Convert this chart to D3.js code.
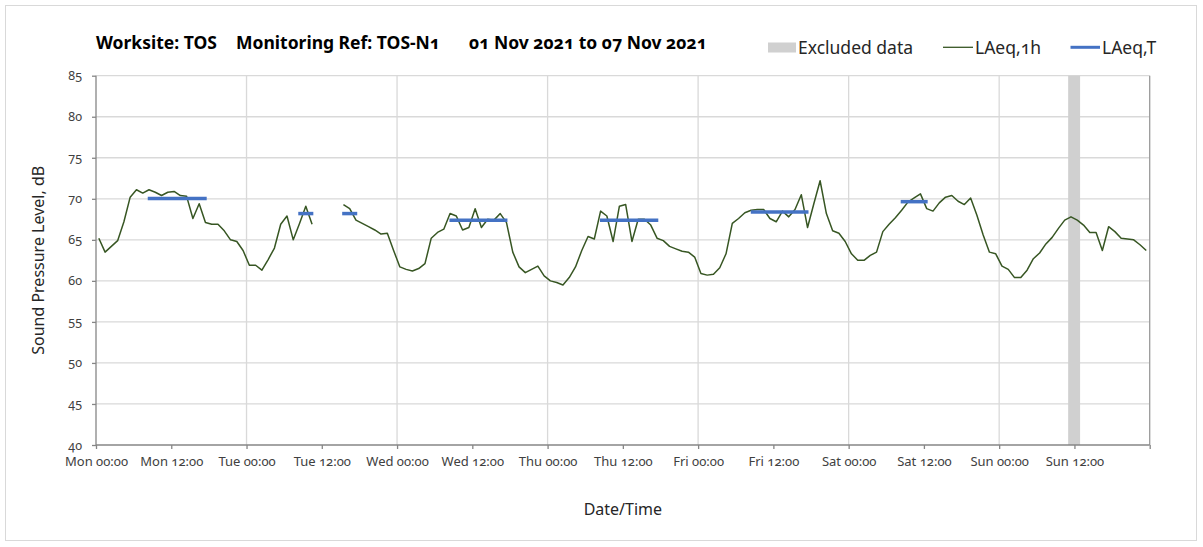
<!DOCTYPE html>
<meta charset="utf-8">
<style>
    body { margin: 0; background: #fff; }
    text {
        font-family: "Noto Sans", "Open Sans", sans-serif;
        font-feature-settings: "onum";
        fill: #404040;
    }
    .title { font-weight: bold; fill: #000; font-size: 17.5px; }
    .legend text { fill: #262626; font-size: 17.5px; }
    .tick text { font-size: 13px; fill: #404040; }
    .yaxis .tick text { font-size: 12.5px; }
    .axis-title { font-size: 16px; fill: #262626; }
    .grid line { stroke: #d9d9d9; stroke-width: 1.3px; }
    .axis path, .axis line { stroke: #868686; stroke-width: 1.3px; }
</style>
<body>
    <svg width="1203" height="547"></svg>
</body>
<script src="https://d3js.org/d3.v7.min.js"></script>
<script>

    // hourly LAeq,1h values, Mon 00:00 to Sun 23:00 (null = no data)
    var laeq1h = [
        65.2, 63.5, 64.2, 64.9, 67.2, 70.2, 71.1, 70.7, 71.1, 70.8, 70.4, 70.8,
        70.9, 70.4, 70.3, 67.6, 69.4, 67.1, 66.9, 66.9, 66.1, 65.0, 64.8, 63.7,
        61.9, 61.9, 61.3, 62.6, 64.0, 66.9, 67.9, 65.0, 67.0, 69.1, 66.9, null,
        null, null, null, 69.3, 68.8, 67.4, 67.0, 66.6, 66.2, 65.7, 65.8, 63.7,
        61.7, 61.4, 61.2, 61.5, 62.1, 65.2, 65.9, 66.3, 68.2, 67.9, 66.2, 66.5,
        68.8, 66.5, 67.5, 67.4, 68.2, 67.1, 63.5, 61.7, 61.0, 61.4, 61.8, 60.6,
        60.0, 59.8, 59.5, 60.4, 61.7, 63.7, 65.4, 65.1, 68.5, 67.9, 64.8, 69.1,
        69.3, 64.8, 67.5, 67.5, 66.8, 65.2, 64.9, 64.2, 63.9, 63.6, 63.5, 62.9,
        60.9, 60.7, 60.8, 61.6, 63.3, 67.0, 67.6, 68.3, 68.6, 68.7, 68.7, 67.6,
        67.2, 68.5, 67.8, 68.7, 70.5, 66.5, 69.4, 72.2, 68.2, 66.1, 65.8, 64.8,
        63.3, 62.5, 62.5, 63.1, 63.5, 66.0, 66.9, 67.7, 68.6, 69.6, 70.1, 70.6,
        68.8, 68.5, 69.5, 70.2, 70.4, 69.7, 69.3, 70.1, 68.0, 65.6, 63.5, 63.3,
        61.8, 61.4, 60.4, 60.4, 61.3, 62.7, 63.4, 64.5, 65.3, 66.4, 67.4, 67.8,
        67.4, 66.8, 65.9, 65.9, 63.7, 66.6, 66.0, 65.2, 65.1, 65.0, 64.4, 63.7
    ];

    // LAeq,T periods: start hour, end hour, level
    var laeqTStart = [8.25, 32.25, 39.25, 56.35, 80.35, 104.4, 128.3];
    var laeqTEnd   = [17.65, 34.65, 41.65, 65.6, 89.65, 113.6, 132.6];
    var laeqTValue = [70.05, 68.2, 68.2, 67.4, 67.4, 68.4, 69.65];

    // excluded data periods (hours from Mon 00:00)
    var excludedStart = [155.0];
    var excludedEnd = [156.9];

    var dayNames = ["Mon", "Tue", "Wed", "Thu", "Fri", "Sat", "Sun", "Mon"];
    var yTicks = [40, 45, 50, 55, 60, 65, 70, 75, 80, 85];

    var svg = d3.select("svg");
    var pLeft = 96, pRight = 1149.7, pTop = 75.7, pBottom = 445;

    // outer chart border
    svg.append("rect")
        .attr("x", 5.5).attr("y", 5.5)
        .attr("width", 1191).attr("height", 535)
        .attr("fill", "none")
        .attr("stroke", "#d9d9d9");

    var x = d3.scaleLinear().domain([0, 168]).range([pLeft, pRight]);
    var y = d3.scaleLinear().domain([40, 85]).range([pBottom, pTop]);

    // grid - horizontal every 5 dB, vertical every day
    var grid = svg.append("g").attr("class", "grid");
    grid.selectAll(".h").data(yTicks.slice(1)).enter().append("line")
        .attr("x1", pLeft).attr("x2", pRight)
        .attr("y1", function (d) { return y(d); })
        .attr("y2", function (d) { return y(d); });
    grid.selectAll(".v").data(d3.range(24, 168, 24)).enter().append("line")
        .attr("y1", pTop).attr("y2", pBottom)
        .attr("x1", function (d) { return x(d); })
        .attr("x2", function (d) { return x(d); });

    // excluded band
    svg.selectAll(".excl").data(excludedStart).enter().append("rect")
        .attr("class", "excl")
        .attr("x", function (d) { return x(d); })
        .attr("width", function (d, i) { return x(excludedEnd[i]) - x(d); })
        .attr("y", pTop)
        .attr("height", pBottom - pTop)
        .attr("fill", "#d0d0d0");

    // right plot border
    svg.append("line")
        .attr("x1", pRight).attr("x2", pRight)
        .attr("y1", pTop).attr("y2", pBottom)
        .attr("stroke", "#9a9a9a").attr("stroke-width", 1.3);

    // axes
    var xAxis = d3.axisBottom(x)
        .tickValues(d3.range(0, 169, 12))
        .tickSize(4)
        .tickPadding(8)
        .tickFormat(function (d) {
            if (d >= 168) return "";
            return dayNames[Math.floor(d / 24)] + " " + (d % 24 === 0 ? "00:00" : "12:00");
        });
    svg.append("g").attr("class", "axis")
        .attr("transform", "translate(0," + pBottom + ")")
        .call(xAxis)
        .call(function (g) { g.select(".domain").attr("d", "M" + pLeft + ",0H" + pRight); });

    var yAxis = d3.axisLeft(y)
        .tickValues(yTicks)
        .tickSize(4)
        .tickPadding(10);
    svg.append("g").attr("class", "axis yaxis")
        .attr("transform", "translate(" + pLeft + ",0)")
        .call(yAxis)
        .call(function (g) { g.select(".domain").attr("d", "M0," + pBottom + "V" + pTop); });

    // LAeq,1h line
    var line = d3.line()
        .defined(function (d) { return d != null; })
        .x(function (d, i) { return x(i + 0.45); })
        .y(function (d) { return y(d); });
    svg.append("path")
        .datum(laeq1h)
        .attr("fill", "none")
        .attr("stroke", "#375623")
        .attr("stroke-width", 1.5)
        .attr("stroke-linejoin", "round")
        .attr("d", line);

    // LAeq,T segments
    svg.selectAll(".laeqT").data(laeqTValue).enter().append("line")
        .attr("class", "laeqT")
        .attr("x1", function (d, i) { return x(laeqTStart[i]); })
        .attr("x2", function (d, i) { return x(laeqTEnd[i]); })
        .attr("y1", function (d) { return y(d); })
        .attr("y2", function (d) { return y(d); })
        .attr("stroke", "#4472c4")
        .attr("stroke-width", 3.5);

    // title
    var titles = [
        { x: 96, t: "Worksite: TOS" },
        { x: 236, t: "Monitoring Ref: TOS-N1" },
        { x: 469, t: "01 Nov 2021 to 07 Nov 2021" }
    ];
    svg.selectAll(".title").data(titles).enter().append("text")
        .attr("class", "title")
        .attr("x", function (d) { return d.x; })
        .attr("y", 49)
        .text(function (d) { return d.t; });

    // legend
    var legend = svg.append("g").attr("class", "legend");
    legend.append("rect")
        .attr("x", 768).attr("y", 42.5).attr("width", 28).attr("height", 10)
        .attr("fill", "#d0d0d0");
    legend.append("text").attr("x", 798).attr("y", 53.5).text("Excluded data");
    legend.append("line")
        .attr("x1", 943).attr("x2", 973).attr("y1", 47.3).attr("y2", 47.3)
        .attr("stroke", "#375623").attr("stroke-width", 1.3);
    legend.append("text").attr("x", 975).attr("y", 53.5).text("LAeq,1h");
    legend.append("line")
        .attr("x1", 1070.5).attr("x2", 1100).attr("y1", 47.3).attr("y2", 47.3)
        .attr("stroke", "#4472c4").attr("stroke-width", 3);
    legend.append("text").attr("x", 1102).attr("y", 53.5).text("LAeq,T");

    // axis titles
    svg.append("text").attr("class", "axis-title")
        .attr("text-anchor", "middle")
        .attr("transform", "translate(44," + ((pTop + pBottom) / 2) + ") rotate(-90)")
        .text("Sound Pressure Level, dB");
    svg.append("text").attr("class", "axis-title")
        .attr("text-anchor", "middle")
        .attr("x", (pLeft + pRight) / 2)
        .attr("y", 515)
        .text("Date/Time");
</script>
